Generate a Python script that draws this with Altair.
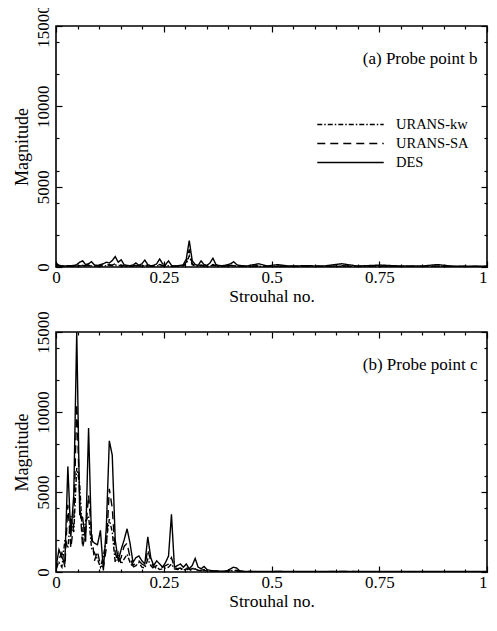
import altair as alt
import pandas as pd

FONT = "Liberation Serif"

# Strouhal number bins (shared by both probes)
strouhal = [0, 0.0069, 0.0137, 0.0206, 0.0275, 0.0344, 0.0412, 0.0481, 0.055, 0.0618,
            0.0687, 0.0756, 0.0824, 0.0893, 0.0962, 0.1031, 0.1099, 0.1168, 0.1237, 0.1305,
            0.1374, 0.1443, 0.1511, 0.158, 0.1649, 0.1718, 0.1786, 0.1855, 0.1924, 0.1992,
            0.2061, 0.213, 0.2198, 0.2267, 0.2336, 0.2405, 0.2473, 0.2542, 0.2611, 0.2679,
            0.2748, 0.2817, 0.2885, 0.2954, 0.3023, 0.3092, 0.316, 0.3229, 0.3298, 0.3366,
            0.3435, 0.3504, 0.3572, 0.3641, 0.371, 0.3779, 0.3847, 0.3916, 0.3985, 0.4053,
            0.4122, 0.4191, 0.4259, 0.4328, 0.4397, 0.4466,
            0.47, 0.49, 0.515, 0.54, 0.58, 0.62, 0.663, 0.70, 0.754, 0.80, 0.85, 0.884, 0.92, 0.96, 1.0]

# (a) Probe point b
b_des = [250, 100, 80, 60, 80, 60, 100, 150, 300, 380,
         150, 200, 330, 120, 100, 150, 200, 300, 250, 400,
         650, 300, 450, 150, 100, 80, 120, 250, 100, 200,
         430, 150, 80, 100, 200, 500, 200, 150, 380, 100,
         60, 80, 100, 150, 500, 1650, 400, 150, 100, 380,
         150, 100, 250, 550, 150, 100, 80, 100, 150, 200,
         330, 150, 100, 80, 60, 80,
         200, 60, 150, 60, 80, 60, 200, 60, 120, 60, 60, 150, 50, 50, 50]
b_sa = [150, 80, 60, 50, 60, 80, 60, 80, 120, 100,
        80, 120, 100, 80, 60, 80, 120, 100, 150, 120,
        200, 150, 120, 80, 60, 80, 60, 100, 80, 100,
        120, 80, 60, 80, 100, 150, 100, 80, 120, 60,
        50, 60, 80, 100, 300, 1100, 200, 100, 80, 120,
        80, 60, 100, 150, 80, 60, 50, 60, 80, 100,
        120, 80, 60, 50, 40, 50,
        80, 40, 60, 40, 50, 40, 80, 40, 60, 40, 40, 60, 40, 40, 40]
b_kw = [120, 60, 50, 40, 50, 40, 50, 60, 80, 70,
        60, 80, 70, 60, 50, 60, 80, 70, 100, 80,
        120, 100, 80, 60, 50, 60, 50, 70, 60, 70,
        80, 60, 50, 60, 70, 100, 70, 60, 80, 50,
        40, 50, 60, 80, 200, 700, 150, 80, 60, 80,
        60, 50, 70, 100, 60, 50, 40, 50, 60, 70,
        80, 60, 50, 40, 30, 40,
        50, 30, 40, 30, 40, 30, 50, 30, 40, 30, 30, 40, 30, 30, 30]

# (b) Probe point c
c_des = [300, 1400, 900, 600, 6600, 2200, 4800, 15000, 3600, 3400,
         1900, 9000, 2000, 1800, 1700, 2600, 100, 2800, 8200, 7300,
         2000, 700, 1400, 2000, 2700, 1800, 600, 900, 1000, 700,
         500, 2200, 900, 400, 700, 500, 300, 600, 1000, 3600,
         300, 400, 500, 300, 500, 200, 400, 850, 300, 200,
         350, 150, 100, 80, 60, 60, 50, 50, 100, 200,
         300, 250, 80, 50, 40, 40,
         30, 30, 40, 30, 30, 30, 40, 30, 30, 30, 30, 30, 30, 30, 30]
c_sa = [100, 800, 1200, 300, 4200, 1500, 3000, 10500, 4500, 1500,
        2500, 4800, 2500, 700, 1300, 400, 300, 1500, 5200, 4000,
        1200, 600, 900, 1600, 1800, 900, 400, 600, 700, 500,
        400, 1400, 700, 300, 400, 250, 300, 400, 500, 900,
        300, 200, 250, 150, 300, 150, 200, 300, 100, 100,
        150, 80, 60, 50, 50, 40, 40, 40, 60, 100,
        150, 100, 50, 40, 30, 30,
        25, 25, 30, 25, 25, 25, 30, 25, 25, 25, 25, 25, 25, 25, 25]
c_kw = [200, 600, 300, 2000, 1500, 3500, 2500, 6500, 5500, 2000,
        3200, 3500, 1500, 1200, 800, 300, 1000, 2000, 3300, 2500,
        600, 1200, 500, 800, 1100, 600, 300, 400, 600, 300,
        250, 800, 400, 200, 300, 150, 200, 250, 300, 500,
        200, 150, 200, 100, 200, 100, 150, 200, 80, 80,
        100, 60, 50, 40, 40, 30, 30, 30, 50, 80,
        100, 80, 40, 30, 25, 25,
        20, 20, 20, 20, 20, 20, 20, 20, 20, 20, 20, 20, 20, 20, 20]

models = ["URANS-kw", "URANS-SA", "DES"]
panel_labels = ["(a) Probe point b", "(b) Probe point c"]

x_labels = [0, 0.25, 0.5, 0.75]
x_ends = [0, 1]
x_major = [0, 0.25, 0.5, 0.75, 1]
x_minor = [0.05, 0.1, 0.15, 0.2, 0.3, 0.35, 0.4, 0.45, 0.55, 0.6, 0.65, 0.7,
           0.8, 0.85, 0.9, 0.95]
y_major = [0, 5000, 10000, 15000]
y_minor = [2000, 4000, 6000, 8000, 12000, 14000]


def long_table(series):
    rows = []
    for name, vals in zip(models, series):
        for s, v in zip(strouhal, vals):
            rows.append({"St": s, "Magnitude": v, "Model": name})
    return pd.DataFrame(rows)


W = 431
xscale = alt.Scale(domain=[0, 1], nice=False, zero=False)
yscale = alt.Scale(domain=[0, 15000], nice=False)
dash_scale = alt.Scale(domain=models, range=[[5, 2, 1.5, 2], [8, 5], [1, 0]])

HIDDEN = dict(labels=False, domain=False, grid=False, title=None,
              ticks=False, minExtent=0, maxExtent=0)


def tick_layer(df, ox, oy, vx, vy, size):
    common = dict(tickSize=size, offset=-size, labels=False, domain=False,
                  grid=False, title=None, tickColor="black", tickWidth=1.2,
                  minExtent=0, maxExtent=0)
    return alt.Chart(df).mark_line(opacity=0).encode(
        x=alt.X("St:Q", scale=xscale, axis=alt.Axis(orient=ox, values=vx, **common)),
        y=alt.Y("Magnitude:Q", scale=yscale, axis=alt.Axis(orient=oy, values=vy, **common)),
    )


def end_label_layer(df):
    # the last x tick label ("1"), right-flushed so it stays inside the page
    return alt.Chart(df).mark_line(opacity=0).encode(
        x=alt.X("St:Q", scale=xscale,
                axis=alt.Axis(orient="bottom", values=x_ends, ticks=False,
                              labelExpr="datum.value == 1 ? '1' : ''",
                              domain=False, grid=False, labelFlush=True, labelPadding=2,
                              labelFontSize=17, title=None, minExtent=0)),
        y=alt.Y("Magnitude:Q", scale=yscale, axis=alt.Axis(orient="left", **HIDDEN)),
    )


def panel(series, label, with_legend, height):
    df = long_table(series)
    if with_legend:
        leg = alt.Legend(orient="none", legendX=285, legendY=89, title=None,
                         symbolType="M-4,0H4", symbolSize=276, symbolStrokeWidth=1.4,
                         symbolStrokeColor="black", labelFont=FONT, labelFontSize=14.5,
                         labelColor="black", labelOffset=36, rowPadding=3, padding=0)
    else:
        leg = None
    lines = alt.Chart(df).mark_line(color="black", strokeWidth=1.4, clip=True).encode(
        x=alt.X("St:Q", scale=xscale,
                axis=alt.Axis(orient="bottom", values=x_labels, format=".2~f", ticks=False,
                              domain=False, grid=False, labelFlush=False, labelPadding=2,
                              labelFontSize=17, title="Strouhal no.", titleFontSize=17.5,
                              titlePadding=2, minExtent=0)),
        y=alt.Y("Magnitude:Q", scale=yscale,
                axis=alt.Axis(orient="left", values=y_major, format="d", ticks=False,
                              domain=False, grid=False, labelAngle=270, labelAlign="center",
                              labelBaseline="bottom", labelPadding=4, labelFontSize=17,
                              title="Magnitude", titleFontSize=18, titlePadding=3,
                              minExtent=0)),
        strokeDash=alt.StrokeDash("Model:N", scale=dash_scale, legend=leg),
    )
    note = alt.Chart(pd.DataFrame({"t": [label]})).mark_text(
        align="right", baseline="middle", font=FONT, fontSize=17, color="black"
    ).encode(
        x=alt.XDatum(0.978, scale=xscale, axis=None),
        y=alt.YDatum(12950, scale=yscale, axis=None),
        text="t:N",
    )
    layers = [
        lines,
        end_label_layer(df),
        tick_layer(df, "bottom", "left", x_major, y_major, 6),
        tick_layer(df, "top", "right", x_major, y_major, 6),
        tick_layer(df, "bottom", "left", x_minor, y_minor, 3),
        tick_layer(df, "top", "right", x_minor, y_minor, 3),
        note,
    ]
    return alt.layer(*layers).resolve_axis(x="independent", y="independent").properties(
        width=W, height=height)


top = panel([b_kw, b_sa, b_des], panel_labels[0], True, 241)
bottom = panel([c_kw, c_sa, c_des], panel_labels[1], False, 240)

chart = alt.vconcat(top, bottom, spacing=3).resolve_legend(strokeDash="independent").properties(
    padding={"left": 4, "top": -5, "right": 0, "bottom": 0}
).configure(font=FONT).configure_view(stroke="black", strokeWidth=1.6).configure_axis(
    labelFont=FONT, titleFont=FONT, labelColor="black", titleColor="black",
    titleFontWeight="normal"
)

chart.save("out.html", embed_options={"renderer": "svg", "actions": False})
